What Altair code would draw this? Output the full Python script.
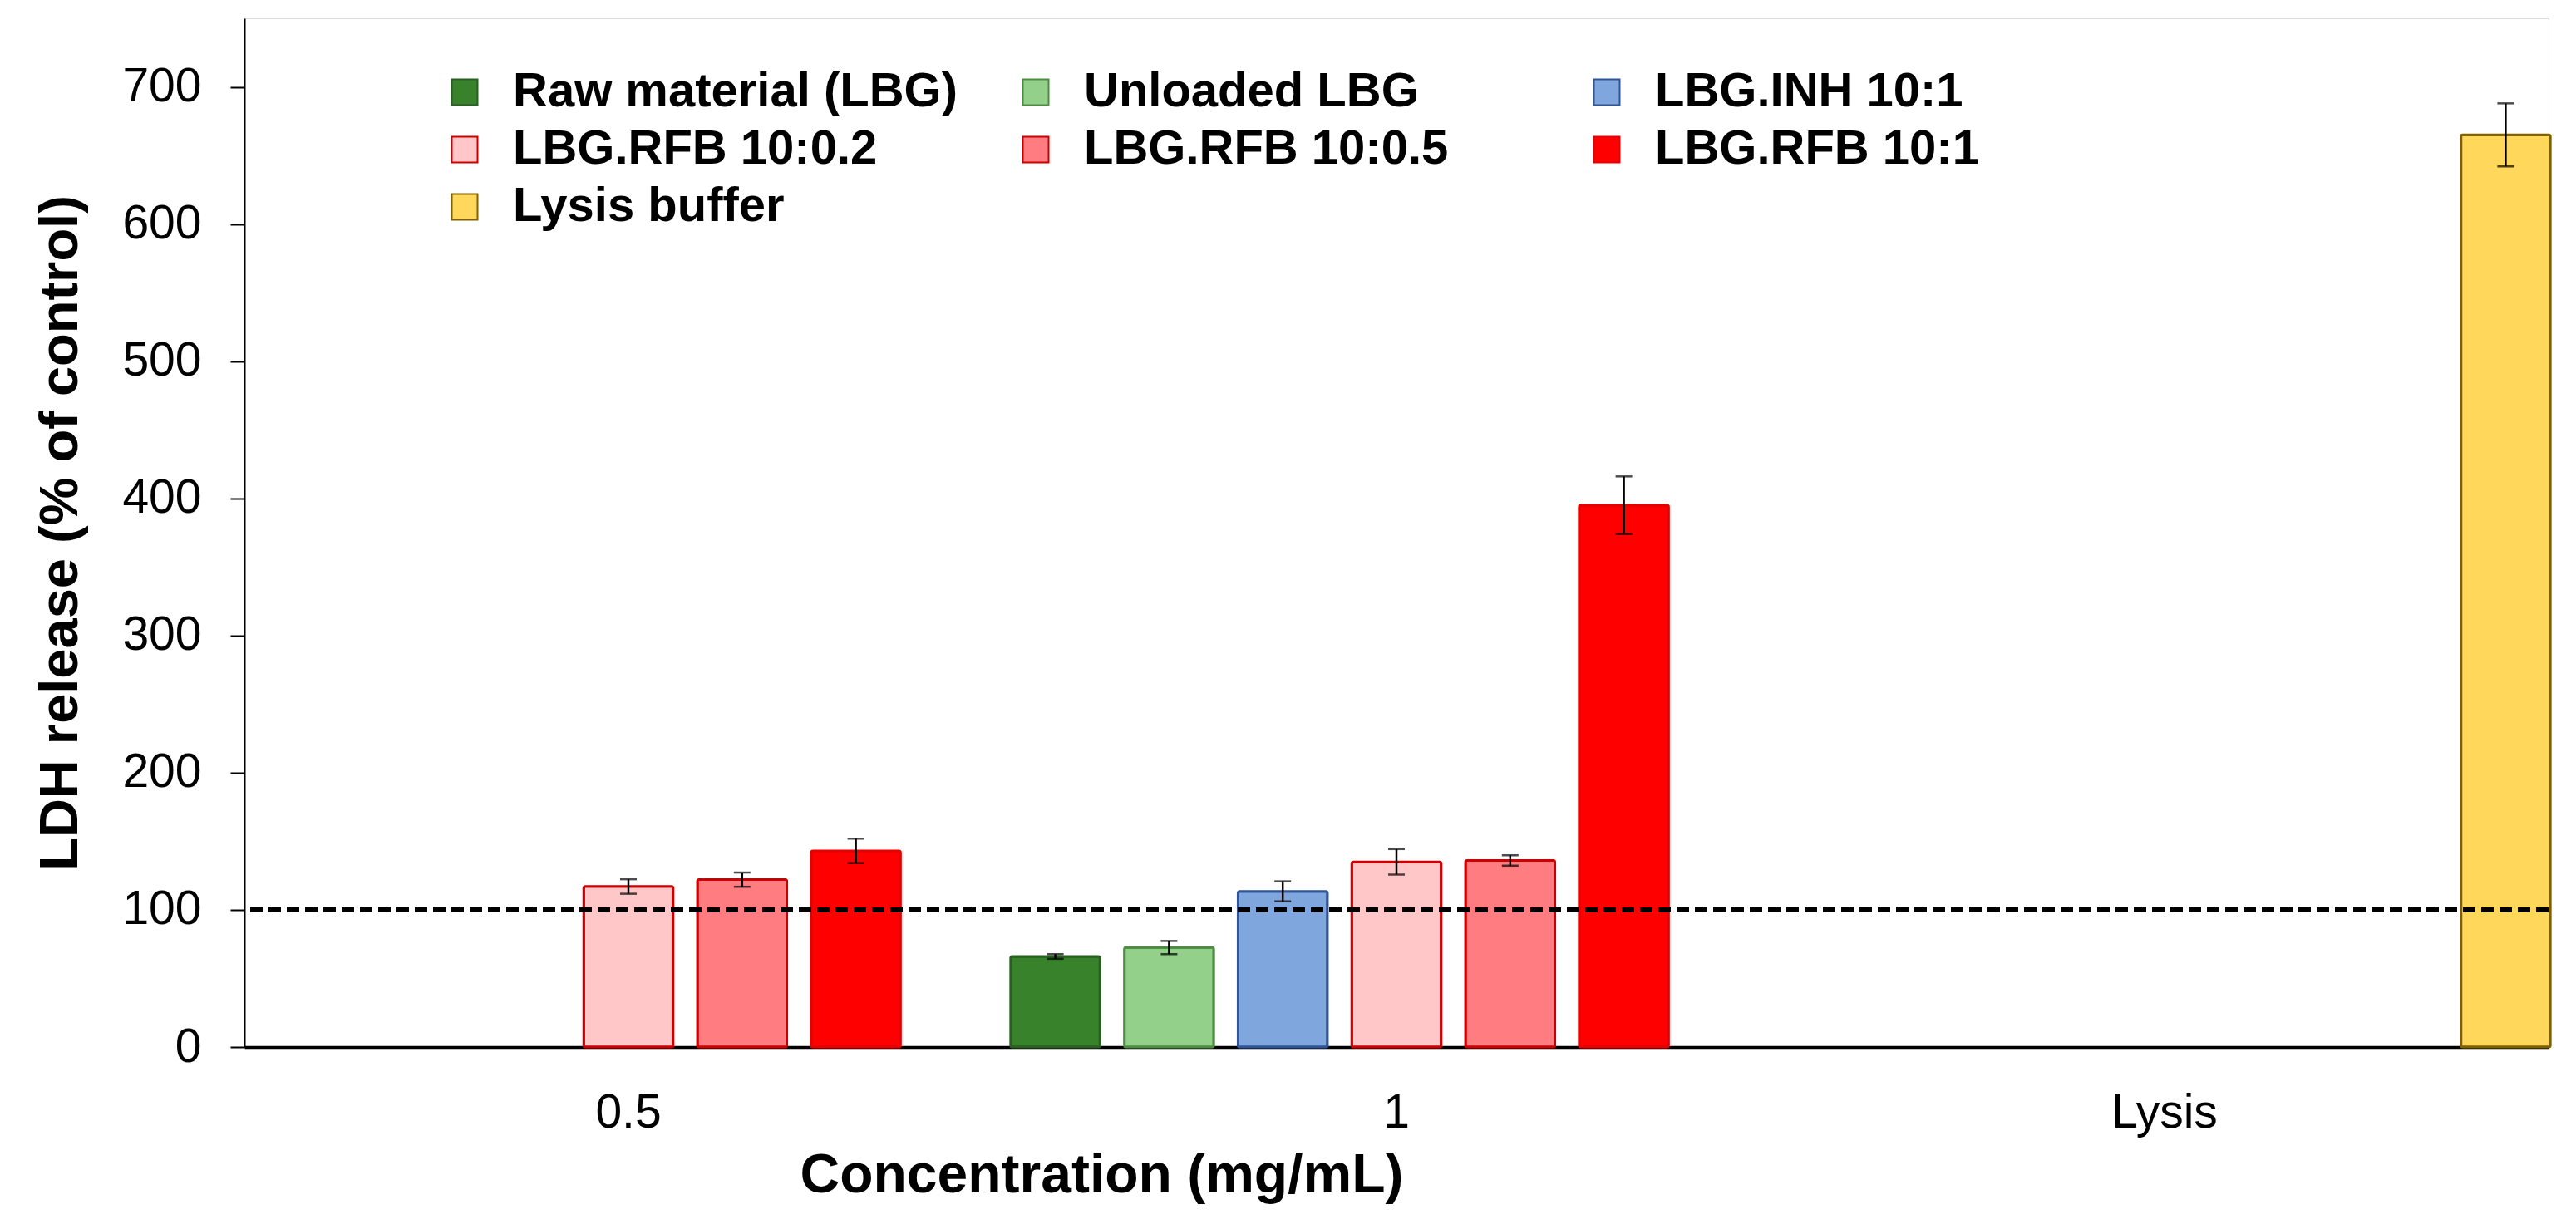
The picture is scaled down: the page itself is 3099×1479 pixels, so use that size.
import altair as alt
import pandas as pd

# ---- data ----
categories = ["0.5", "1", "Lysis"]
series_names = ["Raw material (LBG)", "Unloaded LBG", "LBG.INH 10:1",
                "LBG.RFB 10:0.2", "LBG.RFB 10:0.5", "LBG.RFB 10:1", "Lysis buffer"]
fill_colors = ["#37822A", "#93D08A", "#7FA7DD", "#FFC7C7", "#FF7C80", "#FF0000", "#FFD85B"]
stroke_colors = ["#2B5E22", "#4F8C43", "#2F5597", "#CC0000", "#CC0000", "#E80000", "#7F6000"]

bar_category = ["0.5", "0.5", "0.5", "1", "1", "1", "1", "1", "1", "Lysis"]
bar_series = ["LBG.RFB 10:0.2", "LBG.RFB 10:0.5", "LBG.RFB 10:1",
              "Raw material (LBG)", "Unloaded LBG", "LBG.INH 10:1",
              "LBG.RFB 10:0.2", "LBG.RFB 10:0.5", "LBG.RFB 10:1", "Lysis buffer"]
bar_value = [117, 122, 143, 66, 72.5, 113.5, 135, 136, 395, 665]
bar_error = [5.3, 5.2, 8.9, 1.7, 4.8, 7.3, 9.3, 3.8, 21, 23]

reference_level = [100]
y_ticks = [0, 100, 200, 300, 400, 500, 600, 700]

df = pd.DataFrame({
    "category": bar_category,
    "series": bar_series,
    "value": bar_value,
    "err": bar_error,
})
df["lo"] = df["value"] - df["err"]
df["hi"] = df["value"] + df["err"]
ref_df = pd.DataFrame({"y": reference_level})

FONT = "Liberation Sans"

x_enc = alt.X(
    "category:N",
    scale=alt.Scale(domain=categories, paddingInner=0, paddingOuter=0),
    axis=alt.Axis(
        title="Concentration (mg/mL)",
        labelAngle=0, ticks=False, labelPadding=51,
        labelFontSize=57, labelFont=FONT, labelColor="black",
        domainColor="black", domainWidth=3.5,
        titleFont=FONT, titleFontSize=66, titleFontWeight="bold", titleColor="black",
        titleX=1031, titleY=122, titleBaseline="top",
    ),
)
xoff_enc = alt.XOffset(
    "series:N",
    scale=alt.Scale(domain=series_names, range=[-16.8, 940.8],
                    paddingInner=0.214, paddingOuter=0.107),
)
y_scale = alt.Scale(domain=[0, 750], nice=False)

legend_spec = alt.Legend(
    title=None, orient="none", direction="horizontal",
    legendX=236, legendY=60, columns=3,
    symbolType="square", symbolSize=961, symbolStrokeWidth=2, symbolOpacity=1,
    labelFont=FONT, labelFontSize=58, labelFontWeight="bold", labelColor="black",
    labelLimit=2000, labelOffset=29, rowPadding=11, columnPadding=65,
    gridAlign="all", padding=0,
)

bars = alt.Chart(df).mark_bar(strokeWidth=3, cornerRadius=2).encode(
    x=x_enc,
    xOffset=xoff_enc,
    y=alt.Y(
        "value:Q", scale=y_scale,
        axis=alt.Axis(
            values=y_ticks, title="LDH release (% of control)",
            labelFont=FONT, labelFontSize=57, labelColor="black",
            tickSize=17, tickWidth=2, tickColor="black",
            domainColor="black", domainWidth=2, labelPadding=35,
            titleFont=FONT, titleFontSize=65, titleFontWeight="bold",
            titleColor="black", titlePadding=40, grid=False,
        ),
    ),
    fill=alt.Fill("series:N", scale=alt.Scale(domain=series_names, range=fill_colors),
                  legend=legend_spec),
    stroke=alt.Stroke("series:N", scale=alt.Scale(domain=series_names, range=stroke_colors),
                      legend=legend_spec),
)

ref_line = alt.Chart(ref_df).mark_rule(
    color="black", strokeWidth=6, strokeDash=[15, 7]
).encode(y=alt.Y("y:Q", scale=y_scale))

err_rule = alt.Chart(df).mark_rule(color="black", strokeWidth=2.5).encode(
    x=x_enc, xOffset=xoff_enc,
    y=alt.Y("lo:Q", scale=y_scale), y2="hi:Q",
)
cap_hi = alt.Chart(df).mark_tick(color="black", orient="horizontal", size=20, thickness=2.5).encode(
    x=x_enc, xOffset=xoff_enc, y=alt.Y("hi:Q", scale=y_scale),
)
cap_lo = alt.Chart(df).mark_tick(color="black", orient="horizontal", size=20, thickness=2.5).encode(
    x=x_enc, xOffset=xoff_enc, y=alt.Y("lo:Q", scale=y_scale),
)

chart = alt.layer(bars, ref_line, err_rule, cap_hi, cap_lo).properties(
    width=2772, height=1238,
    padding={"left": 32, "top": 14, "right": 10, "bottom": 5},
).configure_view(stroke=None).configure(background="white")

chart.save("out.html", embed_options={"renderer": "svg", "actions": False})
